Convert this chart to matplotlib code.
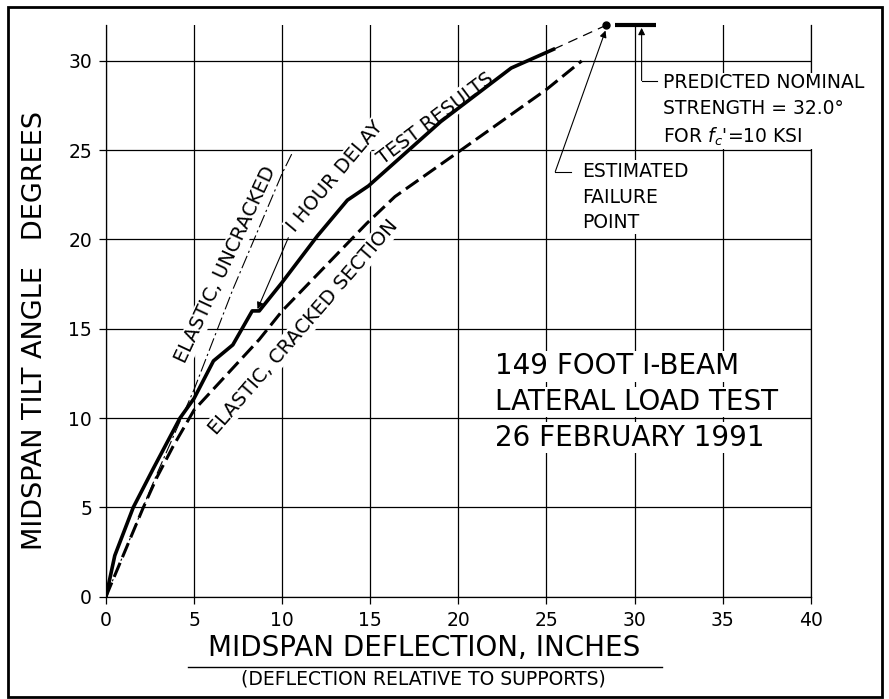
import matplotlib
matplotlib.use("Agg")
import matplotlib.pyplot as plt
from matplotlib.patches import Rectangle
from matplotlib.lines import Line2D

# Test results (solid heavy line), deflection in inches vs tilt angle in degrees
test_x = [0, 0.5, 1.55, 2.7, 4.2, 5.0, 6.1, 7.2, 8.3, 8.7, 10.0, 12.0, 13.7, 14.9, 19.0, 23.0, 25.4]
test_y = [0, 2.3, 5.0, 7.2, 10.0, 11.1, 13.2, 14.1, 16.0, 16.0, 17.6, 20.2, 22.2, 23.0, 26.6, 29.6, 30.65]

# Elastic, cracked section (heavy dashed)
crack_x = [0, 0.25, 2.1, 2.9, 3.8, 5.0, 8.7, 10.0, 14.8, 16.4, 20.0, 25.0, 27.0]
crack_y = [0, 0.6, 4.95, 6.7, 8.4, 10.45, 14.4, 16.0, 20.9, 22.4, 24.9, 28.4, 30.0]

# Elastic, uncracked (thin dash-dot)
uncr_x = [0, 2.9, 5.0, 7.2, 10.0, 10.6]
uncr_y = [0, 6.9, 11.6, 17.2, 23.7, 24.9]

# Estimated failure point and predicted nominal strength
fail_x, fail_y = 28.4, 32.0
nominal = 32.0
nominal_x = [28.9, 31.2]

xticks = list(range(0, 41, 5))
yticks = list(range(0, 31, 5))

fig = plt.figure(figsize=(8.89, 6.99), dpi=100)
ax = fig.add_axes([0.1192, 0.1464, 0.7928, 0.8176])
ax.set_xlim(0, 40)
ax.set_ylim(0, 32)
ax.set_xticks(xticks)
ax.set_yticks(yticks)
ax.tick_params(labelsize=13.5, length=5, width=0.9, pad=5)
ax.grid(True, color='black', linewidth=0.9)
ax.set_axisbelow(True)
ax.spines['top'].set_visible(False)
for s in ['left', 'bottom', 'right']:
    ax.spines[s].set_linewidth(0.9)

ax.plot(test_x, test_y, color='black', lw=2.6, solid_joinstyle='round', zorder=5)
ax.plot([test_x[-1], fail_x], [test_y[-1], fail_y], color='black', lw=0.9,
        linestyle=(0, (8, 5)), zorder=5)
ax.plot(crack_x, crack_y, color='black', lw=2.2, linestyle=(0, (5, 2)), zorder=5)
ax.plot(uncr_x, uncr_y, color='black', lw=0.8, linestyle=(0, (12, 3, 2, 3)), zorder=5)
ax.plot([fail_x], [fail_y], 'o', color='black', ms=5, zorder=6, clip_on=False)
ax.plot(nominal_x, [nominal, nominal], color='black', lw=3, zorder=6,
        solid_capstyle='butt', clip_on=False)

white = dict(facecolor='white', edgecolor='none', pad=1)

# curve labels
ax.text(6.8, 18.6, 'ELASTIC, UNCRACKED', rotation=65, fontsize=14,
        ha='center', va='center', bbox=white, zorder=4, rotation_mode='anchor')
ax.text(11.2, 15.1, 'ELASTIC, CRACKED SECTION', rotation=49, fontsize=14,
        ha='center', va='center', bbox=white, zorder=4, rotation_mode='anchor')
ax.text(13.0, 23.5, 'I HOUR DELAY', rotation=50, fontsize=14,
        ha='center', va='center', bbox=white, zorder=4, rotation_mode='anchor')
ax.text(18.7, 26.8, 'TEST RESULTS', rotation=37, fontsize=14,
        ha='center', va='center', bbox=white, zorder=4, rotation_mode='anchor')

arrow = dict(arrowstyle='-|>', color='black', lw=0.8, mutation_scale=10,
             shrinkA=0, shrinkB=0)
ax.annotate('', xy=(8.6, 16.1), xytext=(10.35, 20.1), arrowprops=arrow, zorder=6)

# estimated failure point
ax.plot([26.4, 25.5], [23.8, 23.8], color='black', lw=0.8, zorder=6)
ax.annotate('', xy=(fail_x - 0.05, fail_y - 0.3), xytext=(25.5, 23.8),
            arrowprops=arrow, zorder=6)
ax.text(27.0, 24.35, 'ESTIMATED\nFAILURE\nPOINT', fontsize=13.5, ha='left', va='top',
        linespacing=1.45, bbox=white, zorder=4)

# predicted nominal strength
ax.plot([31.3, 30.4], [28.9, 28.9], color='black', lw=0.8, zorder=6)
ax.annotate('', xy=(30.4, nominal - 0.15), xytext=(30.4, 28.9),
            arrowprops=arrow, zorder=6)
ax.text(31.6, 29.3, "PREDICTED NOMINAL\nSTRENGTH = 32.0\u00b0\nFOR $f_c$'=10 KSI",
        fontsize=13.5, ha='left', va='top', linespacing=1.45, bbox=white, zorder=4)

# title block
for yy, s in zip([12.9, 10.9, 8.9], ['149 FOOT I-BEAM', 'LATERAL LOAD TEST', '26 FEBRUARY 1991']):
    ax.text(22.1, yy, s, fontsize=20, ha='left', va='center', bbox=white, zorder=4)

# axis labels
fig.text(35 / 889, 1 - 331 / 699, 'MIDSPAN TILT ANGLE   DEGREES', rotation=90,
         fontsize=19.5, ha='center', va='center')
fig.text(424 / 889, 1 - 648 / 699, 'MIDSPAN DEFLECTION, INCHES', fontsize=20,
         ha='center', va='center')
fig.add_artist(Line2D([188 / 889, 662 / 889], [1 - 666.7 / 699] * 2, color='black', lw=1))
fig.text(423 / 889, 1 - 679 / 699, '(DEFLECTION RELATIVE TO SUPPORTS)', fontsize=13.5,
         ha='center', va='center')

# outer frame
fig.add_artist(Rectangle((8 / 889, 2 / 699), 874 / 889, 690 / 699, fill=False,
                         edgecolor='black', lw=2, transform=fig.transFigure))

fig.savefig('out.png', dpi=100)
